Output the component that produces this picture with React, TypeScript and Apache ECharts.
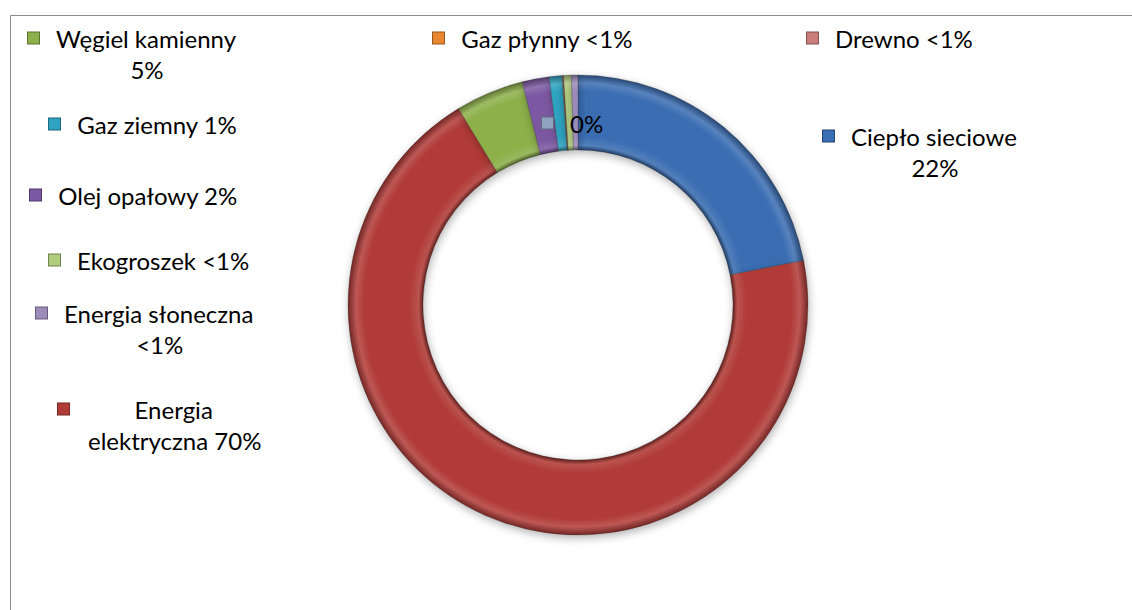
import React, { useEffect, useRef } from "react";
import * as echarts from "echarts";

// ---- data ----
const CATEGORIES = [
  "Ciepło sieciowe",
  "Energia elektryczna",
  "Węgiel kamienny",
  "Olej opałowy",
  "Gaz ziemny",
  "Gaz płynny",
  "Drewno",
  "",
  "Ekogroszek",
  "Energia słoneczna",
];
const VALUES = [21.9, 69.4, 4.8, 1.9, 0.9, 0.05, 0.05, 0, 0.55, 0.45];
const PERCENT_LABELS = ["22%", "70%", "5%", "2%", "1%", "<1%", "<1%", "0%", "<1%", "<1%"];

// ---- styles / layout ----
const COLORS = [
  "#3A6DB2",
  "#B13B37",
  "#8DB04A",
  "#7B58A2",
  "#2EA3C2",
  "#E8872F",
  "#C97D7B",
  "#8FA3BF",
  "#B1CB7F",
  "#9C8BB8",
];
// how each label wraps: stack = name / pct, inline = "name pct", firstWord = first word / rest + pct
const WRAP = ["stack", "firstWord", "stack", "inline", "inline", "inline", "inline", "inline", "inline", "stack"];
// marker left x, first-line centre y
const LABEL_POS: [number, number][] = [
  [823, 136],
  [58, 409],
  [28, 38],
  [30, 195],
  [49, 124],
  [433, 38],
  [807, 38],
  [542, 123],
  [49, 260],
  [36, 313],
];

const CX = 578;
const CY = 305;
const R_OUT = 230;
const R_IN = 155;
const LINE_H = 31;
const FONT = "Lato, 'Open Sans', sans-serif";

function shade(hex: string, f: number) {
  const n = parseInt(hex.slice(1), 16);
  let r = (n >> 16) & 255, g = (n >> 8) & 255, b = n & 255;
  const adj = (c: number) => (f < 0 ? Math.round(c * (1 + f)) : Math.round(c + (255 - c) * f));
  r = adj(r); g = adj(g); b = adj(b);
  return `rgb(${r},${g},${b})`;
}

function labelText(i: number) {
  const name = CATEGORIES[i];
  const pct = PERCENT_LABELS[i];
  let lines: string[];
  if (WRAP[i] === "stack") lines = [name, pct];
  else if (WRAP[i] === "firstWord") {
    const parts = name.split(" ");
    lines = [parts[0], parts.slice(1).join(" ") + " " + pct];
  } else lines = [name ? name + " " + pct : pct];
  return lines
    .map((l, k) => (k === 0 ? `{m|}{g|}{t|${l}}` : `{s|}{g|}{t|${l}}`))
    .join("\n");
}

export default function App() {
  const ref = useRef<HTMLDivElement>(null);
  useEffect(() => {
    if (!ref.current) return;
    const chart = echarts.init(ref.current, undefined, { renderer: "svg" });
    const ir = R_IN / R_OUT;
    const data = VALUES.map((v, i) => ({
      name: CATEGORIES[i],
      value: v,
      itemStyle: {
        color: {
          type: "radial",
          x: CX,
          y: CY,
          r: R_OUT,
          global: true,
          colorStops: [
            { offset: 0, color: COLORS[i] },
            { offset: ir, color: shade(COLORS[i], -0.45) },
            { offset: ir + 0.02, color: shade(COLORS[i], 0.12) },
            { offset: ir + 0.06, color: COLORS[i] },
            { offset: 0.93, color: COLORS[i] },
            { offset: 0.965, color: shade(COLORS[i], 0.15) },
            { offset: 1, color: shade(COLORS[i], -0.35) },
          ],
        },
      },
      label: {
        formatter: labelText(i),
        rich: {
          m: {
            width: 11,
            height: 11,
            align: "left",
            backgroundColor: COLORS[i],
            borderColor: shade(COLORS[i], -0.35),
            borderWidth: 1,
          },
          s: { width: 13, align: "left" },
          g: { width: 17, align: "left" },
          t: {
            fontSize: 24,
            lineHeight: LINE_H,
            align: "center",
            color: "#000",
            fontFamily: FONT,
          },
        },
      },
    }));
    chart.setOption({
      animation: false,
      backgroundColor: "#fff",
      graphic: [
        {
          type: "rect",
          silent: true,
          z: -10,
          shape: { x: 10.5, y: 15.5, width: 1300, height: 800 },
          style: { fill: "none", stroke: "#8a8a8a", lineWidth: 1 },
        },
      ],
      series: [
        {
          type: "pie",
          center: [CX, CY],
          radius: [R_IN, R_OUT],
          startAngle: 90,
          clockwise: true,
          avoidLabelOverlap: false,
          minAngle: 0,
          itemStyle: {
            borderColor: "rgba(40,40,40,0.45)",
            borderWidth: 0.6,
            shadowBlur: 8,
            shadowColor: "rgba(0,0,0,0.3)",
            shadowOffsetX: 1,
            shadowOffsetY: 3,
          },
          label: { show: true, position: "outside" },
          labelLine: { show: false },
          emphasis: { disabled: true },
          labelLayout: (params: any) => {
            const p = LABEL_POS[params.dataIndex];
            return { x: p[0], y: p[1] - LINE_H / 2, align: "left", verticalAlign: "top" };
          },
          data,
        },
      ],
    });
    return () => chart.dispose();
  }, []);
  return (
    <div
      ref={ref}
      style={{ position: "fixed", left: 0, top: 0, width: 1132, height: 610 }}
    />
  );
}
